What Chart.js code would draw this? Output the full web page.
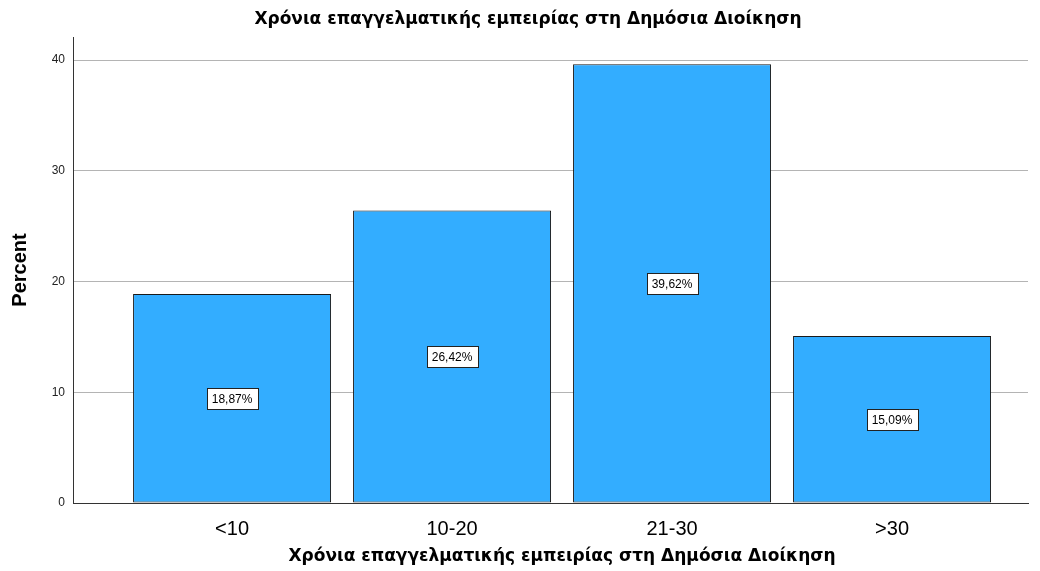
<!DOCTYPE html>
<html>
<head>
<meta charset="utf-8">
<script src="https://cdn.jsdelivr.net/npm/chart.js@4"></script>
<style>
  html, body { margin: 0; padding: 0; background: #fff; }
  #wrap { width: 1040px; height: 571px; position: relative; }
</style>
</head>
<body>
<div id="wrap"><canvas id="barChart" width="1040" height="571"></canvas></div>
<script>
const chartTitle = 'Χρόνια επαγγελματικής εμπειρίας στη Δημόσια Διοίκηση';
const xTitle = 'Χρόνια επαγγελματικής εμπειρίας στη Δημόσια Διοίκηση';
const yTitle = 'Percent';
const categories = ['<10', '10-20', '21-30', '>30'];
const percentValues = [18.87, 26.42, 39.62, 15.09];
const valueLabels = ['18,87%', '26,42%', '39,62%', '15,09%'];
const yTicks = [0, 10, 20, 30, 40];

const FONT = '"Liberation Sans", Arial, sans-serif';
const GREEK_FONT = '"DejaVu Sans", Verdana, sans-serif';

// boxed labels in the middle of each bar + titles
const extrasPlugin = {
    id: 'extras',
    afterDatasetsDraw(chart) {
        const ctx = chart.ctx;
        const meta = chart.getDatasetMeta(0);
        const yScale = chart.scales.y;
        ctx.save();
        ctx.font = '12px ' + FONT;
        ctx.textAlign = 'center';
        ctx.textBaseline = 'middle';
        meta.data.forEach((bar, i) => {
            const cy = yScale.getPixelForValue(percentValues[i] / 2);
            const text = valueLabels[i];
            const w = Math.round(ctx.measureText(text).width + 10);
            const h = 21;
            const bx = Math.round(bar.x - w / 2) + 0.5;
            const by = Math.round(cy - h / 2) + 0.5;
            ctx.fillStyle = '#ffffff';
            ctx.fillRect(bx, by, w, h);
            ctx.strokeStyle = '#222222';
            ctx.lineWidth = 1;
            ctx.strokeRect(bx, by, w, h);
            ctx.fillStyle = '#000000';
            ctx.fillText(text, bar.x, cy + 1);
        });

        // titles
        const xScale = chart.scales.x;
        ctx.fillStyle = '#000000';
        ctx.font = 'bold 17px ' + GREEK_FONT;
        ctx.fillText(chartTitle, 528, 20);
        const midX = (xScale.getPixelForValue(0) + xScale.getPixelForValue(categories.length - 1)) / 2;
        ctx.fillText(xTitle, midX, 557);
        ctx.font = 'bold 20px ' + FONT;
        ctx.translate(20, (chart.chartArea.top + chart.chartArea.bottom) / 2);
        ctx.rotate(-Math.PI / 2);
        ctx.fillText(yTitle, 0, 0);
        ctx.restore();
    }
};

const ctx = document.getElementById('barChart').getContext('2d');
const chartInstance = new Chart(ctx, {
    type: 'bar',
    data: {
        datasets: [{
            data: percentValues.map((v, i) => ({ x: i, y: v })),
            backgroundColor: '#33adff',
            borderColor: '#1a1a1a',
            borderWidth: 1,
            borderSkipped: false,
            barPercentage: 0.9,
            categoryPercentage: 1.0
        }]
    },
    options: {
        responsive: false,
        animation: false,
        layout: { padding: { top: 37, right: 12, left: 0, bottom: 0 } },
        plugins: {
            legend: { display: false },
            title: { display: false },
            tooltip: { enabled: false }
        },
        scales: {
            x: {
                type: 'linear',
                offset: false,
                min: -0.723,
                max: 3.618,
                afterBuildTicks: (scale) => {
                    scale.ticks = categories.map((c, i) => ({ value: i }));
                },
                afterFit: (scale) => { scale.height = 68; },
                grid: { display: false, offset: false },
                border: { display: true, color: '#333333', width: 1 },
                ticks: {
                    callback: (v) => categories[v],
                    color: '#000000',
                    font: { family: FONT, size: 20 },
                    padding: 6,
                    maxRotation: 0,
                    autoSkip: false
                }
            },
            y: {
                min: 0,
                max: 42.08,
                afterBuildTicks: (scale) => {
                    scale.ticks = yTicks.map(v => ({ value: v }));
                },
                afterFit: (scale) => { scale.width = 73; },
                grid: { color: '#b4b4b4', lineWidth: 1, drawTicks: false, tickLength: 0 },
                border: { display: true, color: '#333333', width: 1 },
                ticks: {
                    color: '#222222',
                    font: { family: FONT, size: 12 },
                    padding: 8
                }
            }
        }
    },
    plugins: [extrasPlugin]
});
</script>
</body>
</html>
